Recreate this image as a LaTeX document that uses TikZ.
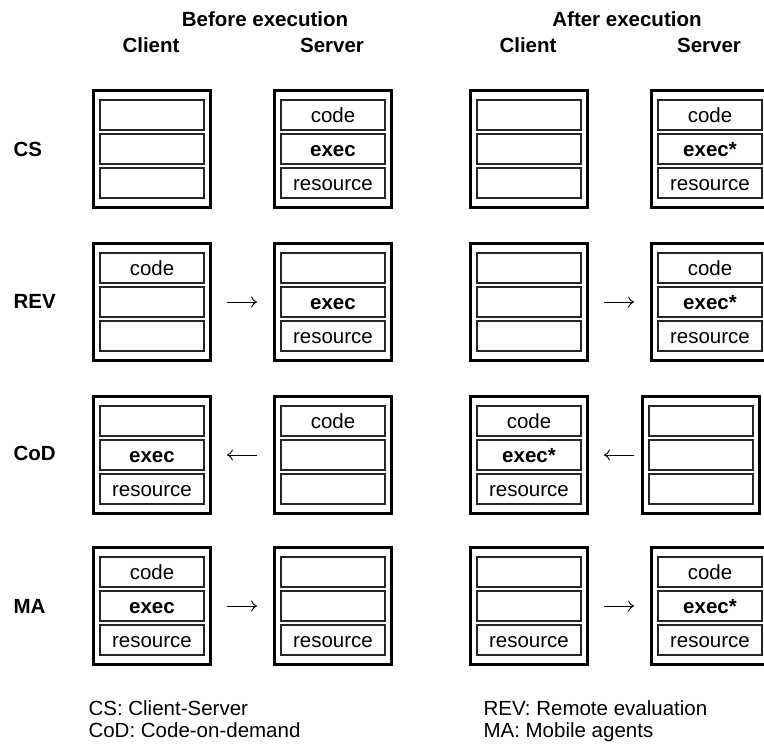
\documentclass[tikz,border=0pt]{standalone}
\usepackage{fontspec}
\setmainfont{Liberation Sans}
\usepackage{tikz}
\usetikzlibrary{positioning, arrows.meta, calc}
\newcommand{\figfont}{\fontsize{20.5pt}{24pt}\selectfont}

\begin{document}
\begin{tikzpicture}[x=1pt, y=-1pt,
  host/.style={draw, line width=2.8pt, minimum width=117pt, minimum height=117pt},
  slot/.style={draw=black!85, line width=1.1pt, minimum width=104pt,
               minimum height=30pt, inner sep=0pt, text height=14.8pt,
               text depth=0pt, font=\figfont},
  head/.style={anchor=base, font=\figfont\bfseries},
  rowlab/.style={anchor=base west, font=\figfont\bfseries},
  legend/.style={anchor=base west, font=\figfont},
  link/.style={-{To[length=6pt,width=11pt]}, line width=0.9pt,
               shorten <=15pt, shorten >=16pt},
]
  \clip (0,0) rectangle (764,745);

  % Column heads
  \node[head] (before) at (265,26) {Before execution};
  \node[head] (after) at (627,26) {After execution};
  \node[head] (bclient) at (151,52) {Client};
  \node[head] (bserver) at (332,52) {Server};
  \node[head] (aclient) at (528,52) {Client};
  \node[head] (aserver) at (709,52) {Server};

  % Row labels
  \node[rowlab] (cs) at (10,156) {CS};
  \node[rowlab] (rev) at (10,308) {REV};
  \node[rowlab] (cod) at (10,460) {CoD};
  \node[rowlab] (ma) at (10,613) {MA};

  % Hosts: name / x / y / top / middle / bottom
  \foreach \n/\x/\y/\a/\b/\c in {
    bc1/152/149/{}/{}/{},
    bs1/333/149/code/\textbf{exec}/resource,
    ac1/529/149/{}/{}/{},
    as1/710/149/code/\textbf{exec*}/resource,
    bc2/152/302/code/{}/{},
    bs2/333/302/{}/\textbf{exec}/resource,
    ac2/529/302/{}/{}/{},
    as2/710/302/code/\textbf{exec*}/resource,
    bc3/152/455/{}/\textbf{exec}/resource,
    bs3/333/455/code/{}/{},
    ac3/529/455/code/\textbf{exec*}/resource,
    as3/701/455/{}/{}/{},
    bc4/152/606/code/\textbf{exec}/resource,
    bs4/333/606/{}/{}/resource,
    ac4/529/606/{}/{}/resource,
    as4/710/606/code/\textbf{exec*}/resource} {
    \node[host] (\n) at (\x,\y) {};
    \node[slot] (\n-1) at (\x,\y-34) {\a};
    \node[slot] (\n-2) at (\x,\y) {\b};
    \node[slot] (\n-3) at (\x,\y+34) {\c};
  }

  % Transfers
  \draw[link] (bc2) -- (bs2);
  \draw[link, shorten <=16pt, shorten >=15pt] (bs3) -- (bc3);
  \draw[link] (bc4) -- (bs4);
  \draw[link] (ac2) -- (as2);
  \draw[link, shorten <=7pt, shorten >=15pt] (as3) -- (ac3);
  \draw[link] (ac4) -- (as4);

  % Legend
  \node[legend] (lcs) at (85,715) {CS: Client-Server};
  \node[legend] (lcod) at (85,737) {CoD: Code-on-demand};
  \node[legend] (lrev) at (480,715) {REV: Remote evaluation};
  \node[legend] (lma) at (480,737) {MA: Mobile agents};
\end{tikzpicture}
\end{document}
